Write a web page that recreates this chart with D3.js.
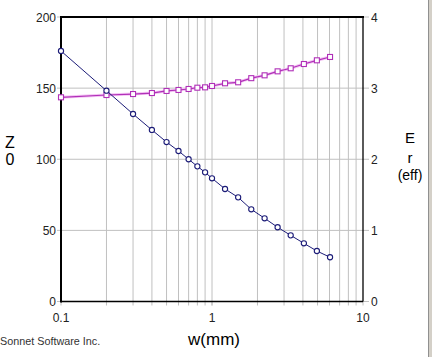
<!DOCTYPE html>
<html><head><meta charset="utf-8">
<script src="https://cdn.jsdelivr.net/npm/d3@7"></script>
<style>body{margin:0;background:#fff}svg{display:block}text{font-family:"Liberation Sans",Arial,sans-serif}</style>
</head><body><svg id="c" width="432" height="357"></svg>
<script>
const widths = [0.1,0.2,0.3,0.4,0.5,0.6,0.7,0.8,0.9,1.0,1.22,1.49,1.82,2.23,2.72,3.32,4.06,4.95,6.05];
const z0 = [176.1,148.2,131.8,120.6,112.1,105.8,100.0,95.0,90.8,86.6,79.1,73.2,64.8,58.5,52.2,46.5,40.9,35.5,31.1];
const erEff = [2.871,2.903,2.917,2.931,2.960,2.974,2.988,3.006,3.011,3.030,3.068,3.082,3.140,3.180,3.236,3.279,3.339,3.391,3.438];
const xTicks = [0.1,1,10];
const xMinor = [0.2,0.3,0.4,0.5,0.6,0.7,0.8,0.9,2,3,4,5,6,7,8,9];
const leftTicks = [0,50,100,150,200];
const rightTicks = [0,1,2,3,4];

const svg = d3.select('#c');
const L=61,R=363,T=17,B=301.5;
const x = d3.scaleLog().domain([0.1,10]).range([L,R]);
const yL = d3.scaleLinear().domain([0,200]).range([B,T]);
const yR = d3.scaleLinear().domain([0,4]).range([B,T]);
const grid='#c0c0c0';

// grid
svg.selectAll('.vg').data(xMinor.concat([1])).enter().append('line')
  .attr('x1',d=>x(d)).attr('x2',d=>x(d)).attr('y1',T).attr('y2',B+4)
  .attr('stroke',grid).attr('stroke-width',1);
svg.selectAll('.hg').data([50,100,150]).enter().append('line')
  .attr('x1',L).attr('x2',R).attr('y1',d=>yL(d)).attr('y2',d=>yL(d))
  .attr('stroke',grid);
// ticks
svg.selectAll('.lt').data(leftTicks).enter().append('line')
  .attr('x1',L-4).attr('x2',L).attr('y1',d=>yL(d)).attr('y2',d=>yL(d)).attr('stroke',grid);
svg.selectAll('.rt').data(rightTicks).enter().append('line')
  .attr('x1',R).attr('x2',R+6).attr('y1',d=>yR(d)).attr('y2',d=>yR(d)).attr('stroke',grid);
svg.selectAll('.bt').data(xTicks).enter().append('line')
  .attr('x1',d=>x(d)).attr('x2',d=>x(d)).attr('y1',B).attr('y2',B+4).attr('stroke',grid);

// frame
svg.append('line').attr('x1',L-1).attr('x2',R+1).attr('y1',T).attr('y2',T).attr('stroke','#000').attr('stroke-width',2);
svg.append('line').attr('x1',L).attr('x2',L).attr('y1',T-1).attr('y2',B+1).attr('stroke','#000').attr('stroke-width',2);
svg.append('line').attr('x1',L).attr('x2',R).attr('y1',B).attr('y2',B).attr('stroke','#000').attr('stroke-width',1.3);
svg.append('line').attr('x1',R).attr('x2',R).attr('y1',T).attr('y2',B).attr('stroke','#000').attr('stroke-width',1.3);

// labels
const fs=12;
svg.selectAll('.ll').data(leftTicks).enter().append('text')
  .attr('x',L-5).attr('y',d=>yL(d)+4.5).attr('text-anchor','end').attr('font-size',fs).attr('fill','#222').text(d=>d);
svg.selectAll('.rl').data(rightTicks).enter().append('text')
  .attr('x',R+8).attr('y',d=>yR(d)+4.5).attr('text-anchor','start').attr('font-size',fs).attr('fill','#222').text(d=>d);
svg.selectAll('.bl').data(xTicks).enter().append('text')
  .attr('x',d=>x(d)).attr('y',321.5).attr('text-anchor','middle').attr('font-size',fs).attr('fill','#222').text(d=>d);

svg.append('text').attr('x',10).attr('y',147.5).attr('text-anchor','middle').attr('font-size',16).text('Z');
svg.append('text').attr('x',10).attr('y',164.5).attr('text-anchor','middle').attr('font-size',16).text('0');
svg.append('text').attr('x',410).attr('y',143).attr('text-anchor','middle').attr('font-size',15).text('E');
svg.append('text').attr('x',410).attr('y',163).attr('text-anchor','middle').attr('font-size',15).text('r');
svg.append('text').attr('x',410).attr('y',180).attr('text-anchor','middle').attr('font-size',14).text('(eff)');
svg.append('text').attr('x',214).attr('y',345).attr('text-anchor','middle').attr('font-size',17).text('w(mm)');
svg.append('text').attr('x',0).attr('y',345).attr('font-size',10.8).attr('fill','#333').text('Sonnet Software Inc.');

// window border
svg.append('rect').attr('x',428).attr('y',0).attr('width',1).attr('height',357).attr('fill','#909090');
svg.append('rect').attr('x',429).attr('y',0).attr('width',3).attr('height',357).attr('fill','#d4d0c8');

// series
const z = widths.map((w,i)=>({w,v:z0[i]}));
const e = widths.map((w,i)=>({w,v:erEff[i]}));
const navy='#1c1c78', mag='#b030b8';
svg.append('path').datum(e).attr('fill','none').attr('stroke','#f4c4f4').attr('stroke-width',3)
  .attr('d',d3.line().x(d=>x(d.w)).y(d=>yR(d.v)));
svg.append('path').datum(e).attr('fill','none').attr('stroke',mag).attr('stroke-width',1.2)
  .attr('d',d3.line().x(d=>x(d.w)).y(d=>yR(d.v)));
svg.selectAll('.sq').data(e).enter().append('rect')
  .attr('x',d=>x(d.w)-2.5).attr('y',d=>yR(d.v)-2.5).attr('width',5).attr('height',5)
  .attr('fill','#fff').attr('stroke',mag).attr('stroke-width',1.1);
svg.append('path').datum(z).attr('fill','none').attr('stroke',navy).attr('stroke-width',1)
  .attr('d',d3.line().x(d=>x(d.w)).y(d=>yL(d.v)));
svg.selectAll('.ci').data(z).enter().append('circle')
  .attr('cx',d=>x(d.w)).attr('cy',d=>yL(d.v)).attr('r',2.6)
  .attr('fill','#fff').attr('stroke',navy).attr('stroke-width',1.1);
</script></body></html>
